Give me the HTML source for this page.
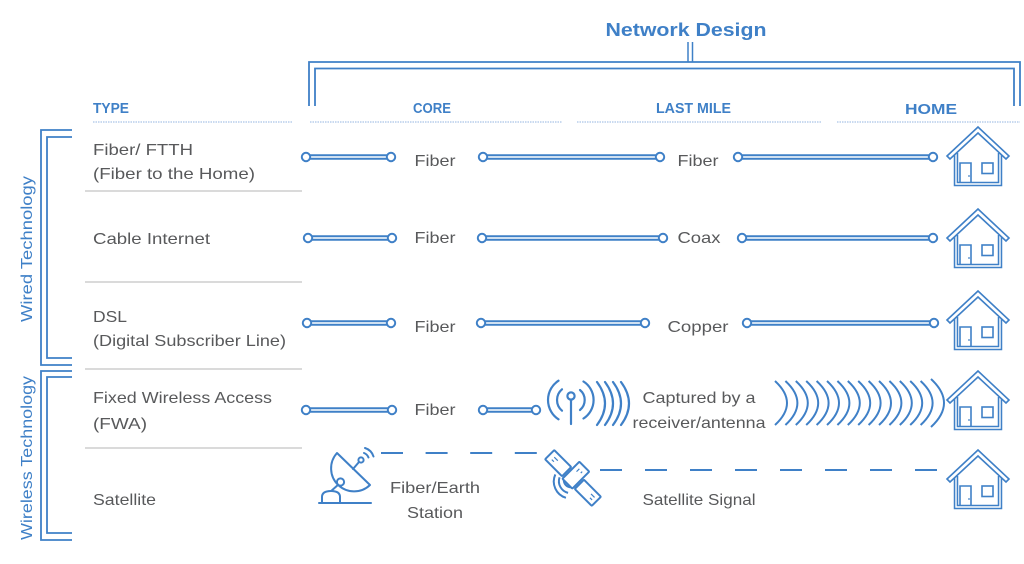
<!DOCTYPE html>
<html><head><meta charset="utf-8"><style>
html,body{margin:0;padding:0;background:#fff;}
svg{display:block;}
text{font-family:"Liberation Sans",sans-serif;}
.g{fill:#58595b;font-size:16px;}
.h{fill:#3f80c7;font-size:14.5px;font-weight:bold;}
.b{stroke:#3f80c7;fill:none;}
</style></head><body>
<svg width="1024" height="564" viewBox="0 0 1024 564" xmlns="http://www.w3.org/2000/svg">
<defs>
<g id="house">
  <path d="M-22,24 V55 H22 V24" stroke="#3f80c7" stroke-width="4.5" fill="none"/>
  <path d="M-22,24 V55 H22 V24" stroke="#fff" stroke-width="1.4" fill="none"/>
  <path d="M-31,27 L0,-2 L31,27 L28,30 L0,4 L-28,30 Z" stroke="#3f80c7" stroke-width="1.6" fill="#fff" stroke-linejoin="miter"/>
  <path d="M-18,53.5 V34 H-7 V53.5" stroke="#3f80c7" stroke-width="1.6" fill="none"/>
  <rect x="4" y="34" width="11" height="10.5" stroke="#3f80c7" stroke-width="1.6" fill="none"/>
  <circle cx="-9" cy="47" r="0.9" fill="#3f80c7"/>
</g>
</defs>

<!-- Title -->
<text x="686" y="36" text-anchor="middle" font-size="18" font-weight="bold" fill="#3f80c7" textLength="161" lengthAdjust="spacingAndGlyphs">Network Design</text>
<line x1="688" y1="42" x2="688" y2="62" class="b" stroke-width="1.5"/>
<line x1="692.5" y1="42" x2="692.5" y2="62" class="b" stroke-width="1.5"/>
<path d="M309,106 V62 H1020 V106" class="b" stroke-width="1.8"/>
<path d="M315,106 V68.5 H1014 V106" class="b" stroke-width="1.8"/>

<!-- Headers -->
<text x="93" y="113" class="h" textLength="36" lengthAdjust="spacingAndGlyphs">TYPE</text>
<text x="413" y="113" class="h" textLength="38" lengthAdjust="spacingAndGlyphs">CORE</text>
<text x="656" y="113" class="h" textLength="75" lengthAdjust="spacingAndGlyphs">LAST MILE</text>
<text x="905" y="114" class="h" font-size="15.5" textLength="52" lengthAdjust="spacingAndGlyphs">HOME</text>
<g stroke="#a9c4e6" stroke-width="1.2" stroke-dasharray="1.5 1">
<line x1="93" y1="122" x2="293" y2="122"/>
<line x1="310" y1="122" x2="562" y2="122"/>
<line x1="577" y1="122" x2="822" y2="122"/>
<line x1="837" y1="122" x2="1020" y2="122"/>
</g>

<!-- Left brackets -->
<path d="M72,130 H41 V365 H72" class="b" stroke-width="1.8"/>
<path d="M72,137 H47 V358 H72" class="b" stroke-width="1.8"/>
<path d="M72,371 H41 V540 H72" class="b" stroke-width="1.8"/>
<path d="M72,377 H47 V533 H72" class="b" stroke-width="1.8"/>
<text transform="translate(32,249) rotate(-90)" text-anchor="middle" font-size="16" fill="#3f80c7" textLength="146" lengthAdjust="spacingAndGlyphs">Wired Technology</text>
<text transform="translate(32,458) rotate(-90)" text-anchor="middle" font-size="16" fill="#3f80c7" textLength="164" lengthAdjust="spacingAndGlyphs">Wireless Technology</text>

<!-- Row separators -->
<g stroke="#c4c4c4" stroke-width="1.3">
<line x1="85" y1="191" x2="302" y2="191"/>
<line x1="85" y1="282" x2="302" y2="282"/>
<line x1="85" y1="369" x2="302" y2="369"/>
<line x1="85" y1="448" x2="302" y2="448"/>
</g>

<!-- Row labels -->
<text x="93" y="155" class="g" textLength="100" lengthAdjust="spacingAndGlyphs">Fiber/ FTTH</text>
<text x="93" y="179" class="g" textLength="162" lengthAdjust="spacingAndGlyphs">(Fiber to the Home)</text>
<text x="93" y="244" class="g" textLength="117" lengthAdjust="spacingAndGlyphs">Cable Internet</text>
<text x="93" y="322" class="g" textLength="34" lengthAdjust="spacingAndGlyphs">DSL</text>
<text x="93" y="346" class="g" textLength="193" lengthAdjust="spacingAndGlyphs">(Digital Subscriber Line)</text>
<text x="93" y="403" class="g" textLength="179" lengthAdjust="spacingAndGlyphs">Fixed Wireless Access</text>
<text x="93" y="429" class="g" textLength="54" lengthAdjust="spacingAndGlyphs">(FWA)</text>
<text x="93" y="505" class="g" textLength="63" lengthAdjust="spacingAndGlyphs">Satellite</text>

<!-- Connectors -->
<g>
<g stroke="#3f80c7" stroke-width="5.5">
<line x1="306" y1="157" x2="391" y2="157"/><line x1="483" y1="157" x2="660" y2="157"/><line x1="738" y1="157" x2="933" y2="157"/>
<line x1="308" y1="238" x2="392" y2="238"/><line x1="482" y1="238" x2="663" y2="238"/><line x1="742" y1="238" x2="933" y2="238"/>
<line x1="307" y1="323" x2="391" y2="323"/><line x1="481" y1="323" x2="645" y2="323"/><line x1="747" y1="323" x2="934" y2="323"/>
<line x1="306" y1="410" x2="392" y2="410"/><line x1="483" y1="410" x2="536" y2="410"/>
</g>
<g stroke="#fff" stroke-width="1.6">
<line x1="306" y1="157" x2="391" y2="157"/><line x1="483" y1="157" x2="660" y2="157"/><line x1="738" y1="157" x2="933" y2="157"/>
<line x1="308" y1="238" x2="392" y2="238"/><line x1="482" y1="238" x2="663" y2="238"/><line x1="742" y1="238" x2="933" y2="238"/>
<line x1="307" y1="323" x2="391" y2="323"/><line x1="481" y1="323" x2="645" y2="323"/><line x1="747" y1="323" x2="934" y2="323"/>
<line x1="306" y1="410" x2="392" y2="410"/><line x1="483" y1="410" x2="536" y2="410"/>
</g>
<g stroke="#3f80c7" stroke-width="2" fill="#fff">
<circle cx="306" cy="157" r="4.2"/><circle cx="391" cy="157" r="4.2"/><circle cx="483" cy="157" r="4.2"/><circle cx="660" cy="157" r="4.2"/><circle cx="738" cy="157" r="4.2"/><circle cx="933" cy="157" r="4.2"/>
<circle cx="308" cy="238" r="4.2"/><circle cx="392" cy="238" r="4.2"/><circle cx="482" cy="238" r="4.2"/><circle cx="663" cy="238" r="4.2"/><circle cx="742" cy="238" r="4.2"/><circle cx="933" cy="238" r="4.2"/>
<circle cx="307" cy="323" r="4.2"/><circle cx="391" cy="323" r="4.2"/><circle cx="481" cy="323" r="4.2"/><circle cx="645" cy="323" r="4.2"/><circle cx="747" cy="323" r="4.2"/><circle cx="934" cy="323" r="4.2"/>
<circle cx="306" cy="410" r="4.2"/><circle cx="392" cy="410" r="4.2"/><circle cx="483" cy="410" r="4.2"/><circle cx="536" cy="410" r="4.2"/>
</g>
</g>

<!-- Connector labels -->
<g text-anchor="middle">
<text x="435" y="166" class="g" textLength="41" lengthAdjust="spacingAndGlyphs">Fiber</text>
<text x="698" y="166" class="g" textLength="41" lengthAdjust="spacingAndGlyphs">Fiber</text>
<text x="435" y="243" class="g" textLength="41" lengthAdjust="spacingAndGlyphs">Fiber</text>
<text x="699" y="243" class="g" textLength="43" lengthAdjust="spacingAndGlyphs">Coax</text>
<text x="435" y="332" class="g" textLength="41" lengthAdjust="spacingAndGlyphs">Fiber</text>
<text x="698" y="332" class="g" textLength="61" lengthAdjust="spacingAndGlyphs">Copper</text>
<text x="435" y="415" class="g" textLength="41" lengthAdjust="spacingAndGlyphs">Fiber</text>
<text x="699" y="403" class="g" textLength="113" lengthAdjust="spacingAndGlyphs">Captured by a</text>
<text x="699" y="428" class="g" textLength="133" lengthAdjust="spacingAndGlyphs">receiver/antenna</text>
<text x="435" y="493" class="g" textLength="90" lengthAdjust="spacingAndGlyphs">Fiber/Earth</text>
<text x="435" y="518" class="g" textLength="56" lengthAdjust="spacingAndGlyphs">Station</text>
<text x="699" y="505" class="g" textLength="113" lengthAdjust="spacingAndGlyphs">Satellite Signal</text>
</g>

<!-- Houses -->
<use href="#house" x="978" y="129"/>
<use href="#house" x="978" y="211"/>
<use href="#house" x="978" y="293"/>
<use href="#house" x="978" y="373"/>
<use href="#house" x="978" y="452"/>

<!-- Antenna (row 4) -->
<g class="b" stroke-width="2.2" stroke-linecap="round">
<circle cx="571" cy="396" r="3.6" fill="#fff"/>
<line x1="571" y1="400" x2="571" y2="424"/>
<path d="M562,389.3 A14,14 0 0,0 562,410.7"/>
<path d="M558.5,380.7 A23,23 0 0,0 558.5,419.3"/>
<path d="M580,390 A13,13 0 0,1 580,410"/>
<path d="M583.5,381.5 A22,22 0 0,1 583.5,418.5"/>
<path d="M597,382 Q613,403.5 597,425"/>
<path d="M605,382 Q621,403.5 605,425"/>
<path d="M613,382 Q629,403.5 613,425"/>
<path d="M621,382 Q637,403.5 621,425"/>
</g>

<!-- Waves (row 4) -->
<g class="b" stroke-width="2">
<path d="M775,381 Q799,403 775,425"/>
<path d="M785.4,381 Q809.4,403 785.4,425"/>
<path d="M795.8,381 Q819.8,403 795.8,425"/>
<path d="M806.2,381 Q830.2,403 806.2,425"/>
<path d="M816.6,381 Q840.6,403 816.6,425"/>
<path d="M827,381 Q851,403 827,425"/>
<path d="M837.4,381 Q861.4,403 837.4,425"/>
<path d="M847.8,381 Q871.8,403 847.8,425"/>
<path d="M858.2,381 Q882.2,403 858.2,425"/>
<path d="M868.6,381 Q892.6,403 868.6,425"/>
<path d="M879,381 Q903,403 879,425"/>
<path d="M889.4,381 Q913.4,403 889.4,425"/>
<path d="M899.8,381 Q923.8,403 899.8,425"/>
<path d="M910.2,381 Q934.2,403 910.2,425"/>
<path d="M920.6,381 Q944.6,403 920.6,425"/>
<path d="M931,379 Q957,403 931,427"/>
</g>

<!-- Satellite dashed lines -->
<line x1="381" y1="453" x2="537" y2="453" stroke="#3f80c7" stroke-width="2" stroke-dasharray="22 22.6"/>
<line x1="600" y1="470" x2="938" y2="470" stroke="#3f80c7" stroke-width="2" stroke-dasharray="22 23"/>

<!-- Dish -->
<g class="b" stroke-width="2" stroke-linecap="round" stroke-linejoin="round">
<path d="M337,453 A23,23 0 0,0 370,485 Z" fill="#fff"/>
<line x1="353" y1="469" x2="359" y2="462"/>
<circle cx="361" cy="460" r="2.6" fill="#fff"/>
<path d="M364,453 A8,8 0 0,1 368.5,457.5"/>
<path d="M365,448 A13,13 0 0,1 373.5,456.5"/>
<line x1="339" y1="484" x2="330" y2="492"/>
<circle cx="340.5" cy="482" r="3.6" fill="#fff"/>
<path d="M322,502 V497 Q322,491 331,491 Q340,491 340,497 V502" fill="#fff"/>
<line x1="319" y1="503" x2="371" y2="503"/>
</g>

<!-- Satellite icon -->
<g transform="translate(573,478) rotate(45)" class="b" stroke-width="2" stroke-linejoin="round">
<path d="M-5,8 A7,7 0 0,0 5,8" />
<path d="M-10,9 A12,12 0 0,0 7,14"/>
<path d="M-15,10 A17,17 0 0,0 9,19"/>
<rect x="-33" y="-6.5" width="24" height="13" rx="1" fill="#fff"/>
<rect x="9" y="-6.5" width="24" height="13" rx="1" fill="#fff"/>
<rect x="-7" y="-16" width="14" height="24" rx="1" fill="#fff"/>
<line x1="-28" y1="-1.5" x2="-23" y2="-1.5" stroke-width="1.2"/>
<line x1="-28" y1="2" x2="-25" y2="2" stroke-width="1.2"/>
<line x1="24" y1="-1.5" x2="29" y2="-1.5" stroke-width="1.2"/>
<line x1="26" y1="2" x2="29" y2="2" stroke-width="1.2"/>
<line x1="-2" y1="-11" x2="-2" y2="-7" stroke-width="1.2"/>
<line x1="2" y1="-11" x2="2" y2="-9" stroke-width="1.2"/>
</g>
</svg>
</body></html>
